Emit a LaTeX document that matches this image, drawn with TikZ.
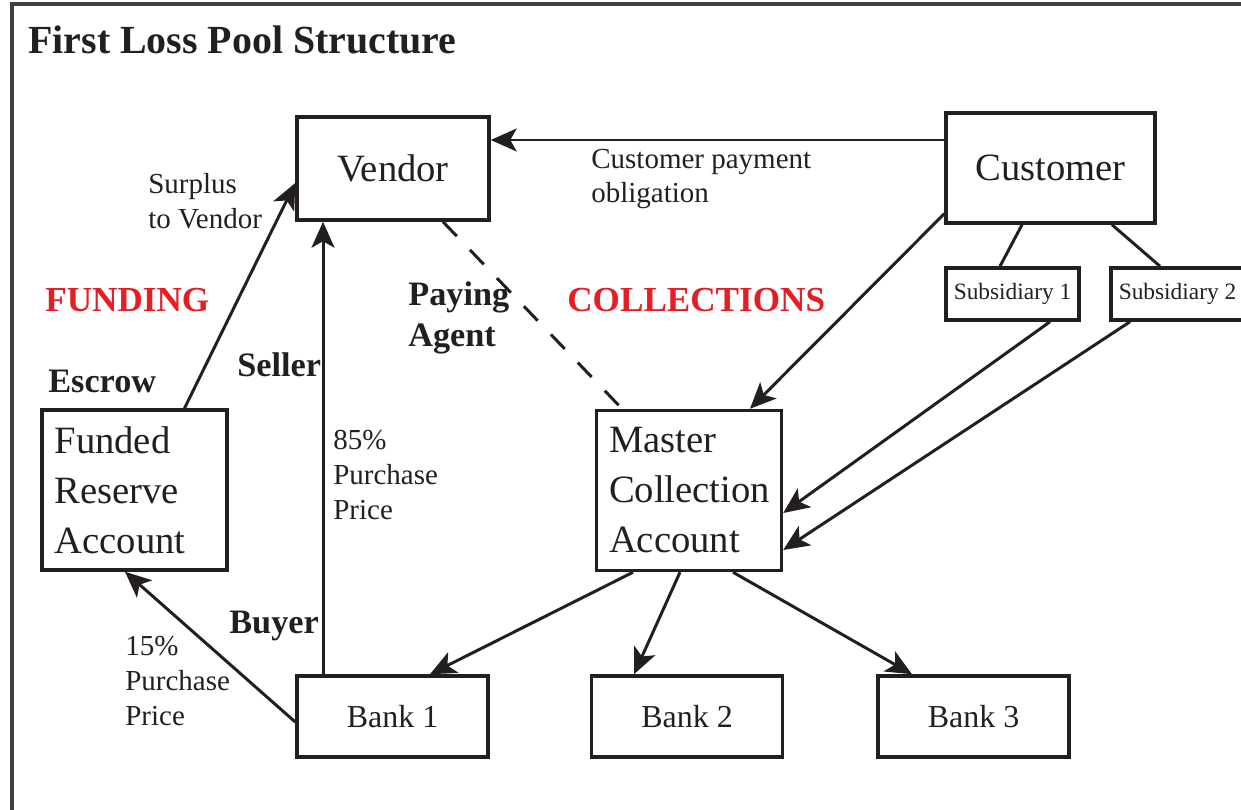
\documentclass[tikz,border=0pt]{standalone}
\usepackage{fontspec}
\setmainfont{Liberation Serif}
\usetikzlibrary{arrows.meta}
\definecolor{ink}{RGB}{35,31,32}
\definecolor{fundred}{RGB}{228,30,36}
\begin{document}
\begin{tikzpicture}
    [x=0.02cm,y=-0.02cm,every node/.style={text=ink},
     Box/.style={draw=ink,line width=2pt,inner sep=0pt,font=\fontsize{22}{28.45}\selectfont},
     Acct/.style={Box,text width=3.2cm,inner xsep=0.25cm,minimum height=3.2cm,align=left},
     Small/.style={Box,minimum width=2.66cm,minimum height=1.04cm,font=\fontsize{13.3}{16}\selectfont},
     Bank/.style={Box,minimum width=3.82cm,minimum height=1.62cm,font=\fontsize{18.2}{22}\selectfont},
     Note/.style={inner sep=0pt,anchor=west,align=left,font=\fontsize{16.5}{19.7}\selectfont},
     Role/.style={inner sep=0pt,anchor=west,align=left,font=\bfseries\fontsize{19.5}{23.3}\selectfont},
     Side/.style={inner sep=0pt,anchor=west,text=fundred,font=\bfseries\fontsize{20}{24}\selectfont},
     Flow/.style={draw=ink,line width=1.7pt,-{Stealth[length=0.52cm,width=0.46cm,inset=0.13cm]}},
     Link/.style={draw=ink,line width=1.7pt}]

    \useasboundingbox (0,0) rectangle (1241,810);
    \clip (0,0) rectangle (1241,810);
    \draw[line width=2pt,black!75] (12,4) rectangle (1300,900);

    \node[anchor=west,inner sep=0pt,font=\bfseries\fontsize{22.7}{27}\selectfont] (title) at (28,40) {First Loss Pool Structure};

    \node[Box,minimum width=3.84cm,minimum height=2.06cm] (vendor) at (393,168.5) {Vendor};
    \node[Box,minimum width=4.18cm,minimum height=2.2cm] (customer) at (1050.5,168) {Customer};
    \node[Small] (sub1) at (1012.5,294) {Subsidiary 1};
    \node[Small] (sub2) at (1177.5,294) {Subsidiary 2};

    \node[Acct] (reserve) at (134.5,490) {Funded\\Reserve\\Account};
    \node[Acct] (master) at (689,490.5) {Master\\Collection\\Account};

    \node[Bank] (bank1) at (392.5,716.5) {Bank 1};
    \node[Bank] (bank2) at (687,716.5) {Bank 2};
    \node[Bank] (bank3) at (973.5,716.5) {Bank 3};

    \node[Note] (surplus) at (148,201) {Surplus\\to Vendor};
    \node[Note] (obligation) at (591,179) {Customer payment\\obligation};
    \node[Side] (funding) at (45,300) {FUNDING};
    \node[Side] (collections) at (567,300) {COLLECTIONS};
    \node[Role] (paying) at (408,317.5) {Paying\\Agent};
    \node[Role] (seller) at (237,365) {Seller};
    \node[Role] (escrow) at (48,381) {Escrow};
    \node[Note] (price85) at (333,475) {85\%\\Purchase\\Price};
    \node[Role] (buyer) at (229,626) {Buyer};
    \node[Note] (price15) at (125,681) {15\%\\Purchase\\Price};

    \draw[Flow] ([yshift=0.56cm]customer.west) -- ([yshift=0.56cm]customer.west -| vendor.east);
    \draw[Flow] ([xshift=1cm]reserve.north) -- ([yshift=-0.29cm]vendor.west);
    \draw[Flow] ([xshift=-1.39cm]bank1.north) -- ([xshift=-1.39cm]bank1.north |- vendor.south);
    \draw[Flow] ([yshift=-0.11cm]bank1.west) -- ([xshift=-0.19cm]reserve.south);
    \draw[Link,dash pattern=on 0.4cm off 0.38cm] ([xshift=1cm]vendor.south) -- ([xshift=-1.34cm]master.north);

    \draw[Flow] ([yshift=0.22cm]customer.south west) -- ([xshift=1.22cm]master.north);
    \draw[Link] ([xshift=-0.57cm]customer.south) -- ([xshift=-0.25cm]sub1.north);
    \draw[Link] ([xshift=1.23cm]customer.south) -- ([xshift=-0.35cm]sub2.north);
    \draw[Flow] ([xshift=0.75cm]sub1.south) -- ([yshift=-0.45cm]master.east);
    \draw[Flow] ([xshift=-0.95cm]sub2.south) -- ([yshift=-1.19cm]master.east);

    \draw[Flow] ([xshift=-1.12cm]master.south) -- ([xshift=0.75cm]bank1.north);
    \draw[Flow] ([xshift=-0.18cm]master.south) -- ([xshift=-1.06cm]bank2.north);
    \draw[Flow] ([xshift=0.88cm]master.south) -- ([xshift=-1.23cm]bank3.north);
\end{tikzpicture}
\end{document}
